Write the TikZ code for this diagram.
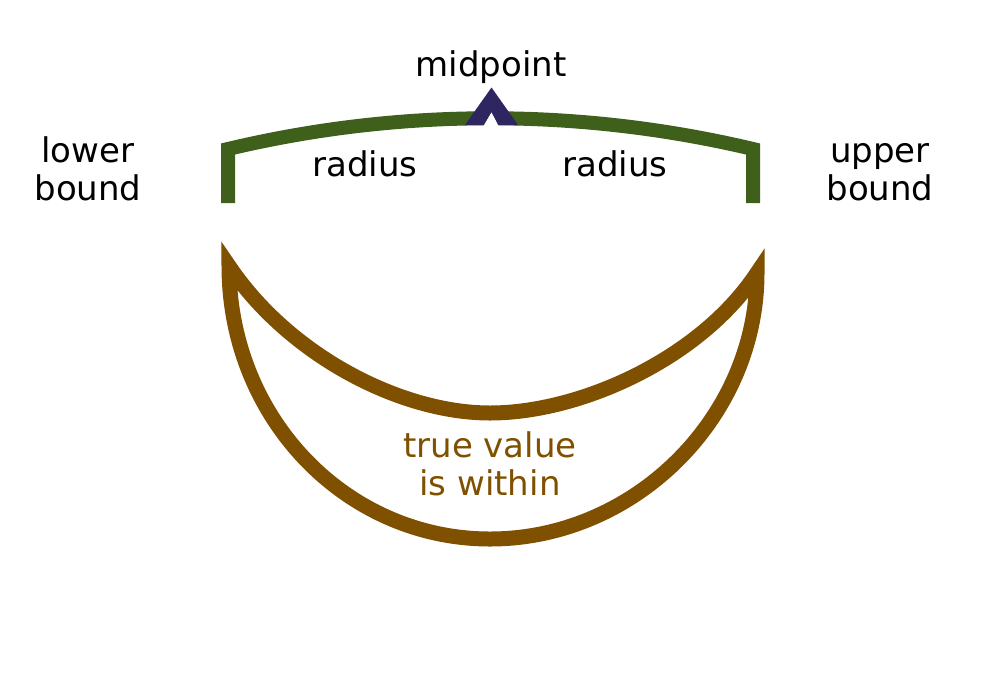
\documentclass[tikz,border=0pt]{standalone}
\usepackage{fontspec}
\setmainfont{DejaVu Sans}
\definecolor{bracketgreen}{RGB}{62,96,26}
\definecolor{crescentbrown}{RGB}{127,80,0}
\definecolor{tipblue}{RGB}{46,38,96}
\begin{document}
\begin{tikzpicture}[x=1pt,y=-1pt,
  lbl/.style={font=\fontsize{34}{38}\selectfont, align=center, inner sep=0pt, anchor=base},
  bracketline/.style={draw=bracketgreen, line width=14pt, line join=miter},
  crescentline/.style={draw=crescentbrown, line width=15pt, line join=miter, miter limit=10}]
\useasboundingbox (0,0) rectangle (985,681);
% bracket
\draw[bracketline] (228,203) -- (228,149) .. controls (400,108) and (580,108) .. (753,149) -- (753,203);
% midpoint marker
\fill[white] (483.5,126) -- (491.5,112) -- (498.5,126) -- cycle;
\fill[tipblue] (465,125) -- (491.5,87.5) -- (518,125) -- (498.5,125) -- (491.5,112) -- (483.5,125) -- cycle;
% crescent
\draw[crescentline] (229,266) .. controls (229,417) and (345,539) .. (490,539)
   .. controls (635,539) and (757,417) .. (757,273)
   .. controls (700,359) and (580,413) .. (490,413)
   .. controls (400,413) and (289,355) .. cycle;
% labels
\node[lbl] (mid) at (491,76) {midpoint};
\node[lbl] (r1) at (365,176) {radius};
\node[lbl] (r2) at (615,176) {radius};
\node[lbl] (lb) at (88,200) {lower\\bound};
\node[lbl] (ub) at (880,200) {upper\\bound};
\node[lbl, text=crescentbrown] (tv) at (490,495) {true value\\is within};
\end{tikzpicture}
\end{document}
